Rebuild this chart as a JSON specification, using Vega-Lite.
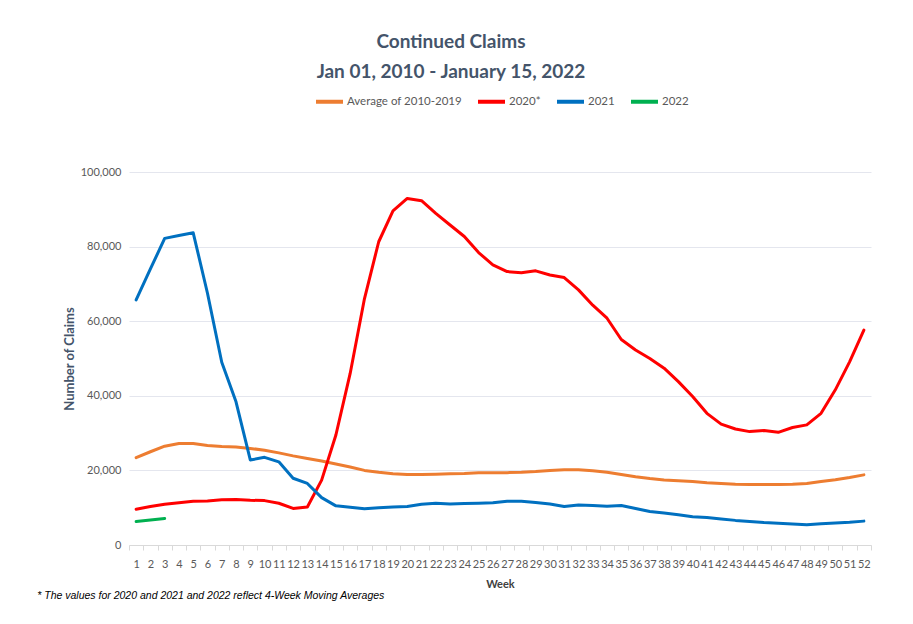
{
  "$schema": "https://vega.github.io/schema/vega-lite/v6.json",
  "background": "white",
  "padding": {"left": 37, "top": 33, "right": 40, "bottom": 8},
  "title": {
    "text": "* The values for 2020 and 2021 and 2022 reflect 4-Week Moving Averages",
    "orient": "bottom", "anchor": "start", "dx": -26, "offset": 2,
    "font": "Liberation Sans", "fontSize": 10.5, "fontStyle": "italic", "fontWeight": "normal", "color": "#000000"
  },
  "datasets": {
    "claims": [
      {"week": 1, "series": "Average of 2010-2019", "claims": 23400},
      {"week": 2, "series": "Average of 2010-2019", "claims": 25000},
      {"week": 3, "series": "Average of 2010-2019", "claims": 26500},
      {"week": 4, "series": "Average of 2010-2019", "claims": 27200},
      {"week": 5, "series": "Average of 2010-2019", "claims": 27200},
      {"week": 6, "series": "Average of 2010-2019", "claims": 26700},
      {"week": 7, "series": "Average of 2010-2019", "claims": 26400},
      {"week": 8, "series": "Average of 2010-2019", "claims": 26300},
      {"week": 9, "series": "Average of 2010-2019", "claims": 25900},
      {"week": 10, "series": "Average of 2010-2019", "claims": 25400},
      {"week": 11, "series": "Average of 2010-2019", "claims": 24700},
      {"week": 12, "series": "Average of 2010-2019", "claims": 23900},
      {"week": 13, "series": "Average of 2010-2019", "claims": 23200},
      {"week": 14, "series": "Average of 2010-2019", "claims": 22500},
      {"week": 15, "series": "Average of 2010-2019", "claims": 21700},
      {"week": 16, "series": "Average of 2010-2019", "claims": 20900},
      {"week": 17, "series": "Average of 2010-2019", "claims": 20000},
      {"week": 18, "series": "Average of 2010-2019", "claims": 19500},
      {"week": 19, "series": "Average of 2010-2019", "claims": 19100},
      {"week": 20, "series": "Average of 2010-2019", "claims": 18900},
      {"week": 21, "series": "Average of 2010-2019", "claims": 18900},
      {"week": 22, "series": "Average of 2010-2019", "claims": 19000},
      {"week": 23, "series": "Average of 2010-2019", "claims": 19100},
      {"week": 24, "series": "Average of 2010-2019", "claims": 19200},
      {"week": 25, "series": "Average of 2010-2019", "claims": 19400},
      {"week": 26, "series": "Average of 2010-2019", "claims": 19400},
      {"week": 27, "series": "Average of 2010-2019", "claims": 19400},
      {"week": 28, "series": "Average of 2010-2019", "claims": 19500},
      {"week": 29, "series": "Average of 2010-2019", "claims": 19700},
      {"week": 30, "series": "Average of 2010-2019", "claims": 20000},
      {"week": 31, "series": "Average of 2010-2019", "claims": 20200},
      {"week": 32, "series": "Average of 2010-2019", "claims": 20200},
      {"week": 33, "series": "Average of 2010-2019", "claims": 19900},
      {"week": 34, "series": "Average of 2010-2019", "claims": 19500},
      {"week": 35, "series": "Average of 2010-2019", "claims": 18900},
      {"week": 36, "series": "Average of 2010-2019", "claims": 18300},
      {"week": 37, "series": "Average of 2010-2019", "claims": 17800},
      {"week": 38, "series": "Average of 2010-2019", "claims": 17400},
      {"week": 39, "series": "Average of 2010-2019", "claims": 17200},
      {"week": 40, "series": "Average of 2010-2019", "claims": 17000},
      {"week": 41, "series": "Average of 2010-2019", "claims": 16700},
      {"week": 42, "series": "Average of 2010-2019", "claims": 16500},
      {"week": 43, "series": "Average of 2010-2019", "claims": 16300},
      {"week": 44, "series": "Average of 2010-2019", "claims": 16200},
      {"week": 45, "series": "Average of 2010-2019", "claims": 16200},
      {"week": 46, "series": "Average of 2010-2019", "claims": 16200},
      {"week": 47, "series": "Average of 2010-2019", "claims": 16300},
      {"week": 48, "series": "Average of 2010-2019", "claims": 16500},
      {"week": 49, "series": "Average of 2010-2019", "claims": 17000},
      {"week": 50, "series": "Average of 2010-2019", "claims": 17500},
      {"week": 51, "series": "Average of 2010-2019", "claims": 18100},
      {"week": 52, "series": "Average of 2010-2019", "claims": 18800},
      {"week": 1, "series": "2020*", "claims": 9600},
      {"week": 2, "series": "2020*", "claims": 10300},
      {"week": 3, "series": "2020*", "claims": 10900},
      {"week": 4, "series": "2020*", "claims": 11300},
      {"week": 5, "series": "2020*", "claims": 11700},
      {"week": 6, "series": "2020*", "claims": 11800},
      {"week": 7, "series": "2020*", "claims": 12100},
      {"week": 8, "series": "2020*", "claims": 12200},
      {"week": 9, "series": "2020*", "claims": 12000},
      {"week": 10, "series": "2020*", "claims": 11900},
      {"week": 11, "series": "2020*", "claims": 11200},
      {"week": 12, "series": "2020*", "claims": 9800},
      {"week": 13, "series": "2020*", "claims": 10200},
      {"week": 14, "series": "2020*", "claims": 17400},
      {"week": 15, "series": "2020*", "claims": 29500},
      {"week": 16, "series": "2020*", "claims": 46000},
      {"week": 17, "series": "2020*", "claims": 66000},
      {"week": 18, "series": "2020*", "claims": 81300},
      {"week": 19, "series": "2020*", "claims": 89600},
      {"week": 20, "series": "2020*", "claims": 92900},
      {"week": 21, "series": "2020*", "claims": 92300},
      {"week": 22, "series": "2020*", "claims": 88900},
      {"week": 23, "series": "2020*", "claims": 85800},
      {"week": 24, "series": "2020*", "claims": 82700},
      {"week": 25, "series": "2020*", "claims": 78400},
      {"week": 26, "series": "2020*", "claims": 75100},
      {"week": 27, "series": "2020*", "claims": 73300},
      {"week": 28, "series": "2020*", "claims": 73000},
      {"week": 29, "series": "2020*", "claims": 73500},
      {"week": 30, "series": "2020*", "claims": 72400},
      {"week": 31, "series": "2020*", "claims": 71700},
      {"week": 32, "series": "2020*", "claims": 68400},
      {"week": 33, "series": "2020*", "claims": 64300},
      {"week": 34, "series": "2020*", "claims": 60800},
      {"week": 35, "series": "2020*", "claims": 55100},
      {"week": 36, "series": "2020*", "claims": 52300},
      {"week": 37, "series": "2020*", "claims": 50000},
      {"week": 38, "series": "2020*", "claims": 47400},
      {"week": 39, "series": "2020*", "claims": 43800},
      {"week": 40, "series": "2020*", "claims": 39800},
      {"week": 41, "series": "2020*", "claims": 35300},
      {"week": 42, "series": "2020*", "claims": 32400},
      {"week": 43, "series": "2020*", "claims": 31100},
      {"week": 44, "series": "2020*", "claims": 30400},
      {"week": 45, "series": "2020*", "claims": 30700},
      {"week": 46, "series": "2020*", "claims": 30200},
      {"week": 47, "series": "2020*", "claims": 31500},
      {"week": 48, "series": "2020*", "claims": 32200},
      {"week": 49, "series": "2020*", "claims": 35300},
      {"week": 50, "series": "2020*", "claims": 41600},
      {"week": 51, "series": "2020*", "claims": 49100},
      {"week": 52, "series": "2020*", "claims": 57600},
      {"week": 1, "series": "2021", "claims": 65700},
      {"week": 2, "series": "2021", "claims": 74000},
      {"week": 3, "series": "2021", "claims": 82200},
      {"week": 4, "series": "2021", "claims": 83000},
      {"week": 5, "series": "2021", "claims": 83700},
      {"week": 6, "series": "2021", "claims": 67500},
      {"week": 7, "series": "2021", "claims": 49000},
      {"week": 8, "series": "2021", "claims": 38400},
      {"week": 9, "series": "2021", "claims": 22800},
      {"week": 10, "series": "2021", "claims": 23500},
      {"week": 11, "series": "2021", "claims": 22300},
      {"week": 12, "series": "2021", "claims": 17900},
      {"week": 13, "series": "2021", "claims": 16500},
      {"week": 14, "series": "2021", "claims": 12700},
      {"week": 15, "series": "2021", "claims": 10500},
      {"week": 16, "series": "2021", "claims": 10100},
      {"week": 17, "series": "2021", "claims": 9700},
      {"week": 18, "series": "2021", "claims": 10000},
      {"week": 19, "series": "2021", "claims": 10200},
      {"week": 20, "series": "2021", "claims": 10300},
      {"week": 21, "series": "2021", "claims": 10900},
      {"week": 22, "series": "2021", "claims": 11200},
      {"week": 23, "series": "2021", "claims": 11000},
      {"week": 24, "series": "2021", "claims": 11100},
      {"week": 25, "series": "2021", "claims": 11200},
      {"week": 26, "series": "2021", "claims": 11300},
      {"week": 27, "series": "2021", "claims": 11700},
      {"week": 28, "series": "2021", "claims": 11700},
      {"week": 29, "series": "2021", "claims": 11400},
      {"week": 30, "series": "2021", "claims": 11000},
      {"week": 31, "series": "2021", "claims": 10300},
      {"week": 32, "series": "2021", "claims": 10700},
      {"week": 33, "series": "2021", "claims": 10600},
      {"week": 34, "series": "2021", "claims": 10400},
      {"week": 35, "series": "2021", "claims": 10600},
      {"week": 36, "series": "2021", "claims": 9800},
      {"week": 37, "series": "2021", "claims": 9000},
      {"week": 38, "series": "2021", "claims": 8600},
      {"week": 39, "series": "2021", "claims": 8100},
      {"week": 40, "series": "2021", "claims": 7600},
      {"week": 41, "series": "2021", "claims": 7400},
      {"week": 42, "series": "2021", "claims": 7000},
      {"week": 43, "series": "2021", "claims": 6600},
      {"week": 44, "series": "2021", "claims": 6300},
      {"week": 45, "series": "2021", "claims": 6000},
      {"week": 46, "series": "2021", "claims": 5800},
      {"week": 47, "series": "2021", "claims": 5600},
      {"week": 48, "series": "2021", "claims": 5400},
      {"week": 49, "series": "2021", "claims": 5700},
      {"week": 50, "series": "2021", "claims": 5900},
      {"week": 51, "series": "2021", "claims": 6100},
      {"week": 52, "series": "2021", "claims": 6400},
      {"week": 1, "series": "2022", "claims": 6300},
      {"week": 2, "series": "2022", "claims": 6700},
      {"week": 3, "series": "2022", "claims": 7100}
    ]
  },
  "vconcat": [
    {
      "width": 742,
      "height": 373,
      "title": {
        "text": ["Continued Claims", "Jan 01, 2010 - January 15, 2022"],
        "anchor": "middle", "dx": -49,
        "font": "Lato", "fontSize": 19, "fontWeight": "bold", "color": "#44546A",
        "lineHeight": 30, "offset": 84
      },
      "data": {"name": "claims"},
      "mark": {"type": "line", "strokeWidth": 3, "strokeCap": "round", "strokeJoin": "round"},
      "encoding": {
        "x": {
          "field": "week", "type": "ordinal", "bandPosition": 0.5,
          "scale": {"type": "band", "paddingInner": 0, "paddingOuter": 0},
          "axis": {
            "title": "Week", "labelAngle": 0, "tickBand": "extent", "grid": false,
            "domainColor": "#D9D9D9", "tickColor": "#D9D9D9", "tickSize": 5,
            "labelFont": "Lato", "labelFontSize": 11, "labelColor": "#595959", "labelPadding": 8,
            "titleFont": "Lato", "titleFontSize": 11, "titleFontWeight": "bold", "titleColor": "#404040", "titlePadding": 9
          }
        },
        "y": {
          "field": "claims", "type": "quantitative",
          "scale": {"domain": [0, 100000]},
          "axis": {
            "title": "Number of Claims", "values": [0, 20000, 40000, 60000, 80000, 100000], "format": ",d",
            "domain": false, "ticks": false, "gridColor": "#E4E6EE",
            "labelFont": "Lato", "labelFontSize": 11, "labelColor": "#595959", "labelPadding": 8,
            "titleFont": "Lato", "titleFontSize": 13, "titleFontWeight": "bold", "titleColor": "#44546A", "titlePadding": 4
          }
        },
        "color": {
          "field": "series", "type": "nominal",
          "scale": {
            "domain": ["Average of 2010-2019", "2020*", "2021", "2022"],
            "range": ["#ED7D31", "#FF0000", "#0070C0", "#00B050"]
          },
          "legend": {
            "title": null, "orient": "none", "direction": "horizontal", "legendX": 185, "legendY": -86,
            "symbolType": "stroke", "symbolSize": 729, "symbolStrokeWidth": 4, "labelOffset": 2,
            "columnPadding": 8, "labelFont": "Lato", "labelFontSize": 11.5, "labelColor": "#595959"
          }
        }
      }
    }
  ],
  "config": {"view": {"stroke": null}}
}
